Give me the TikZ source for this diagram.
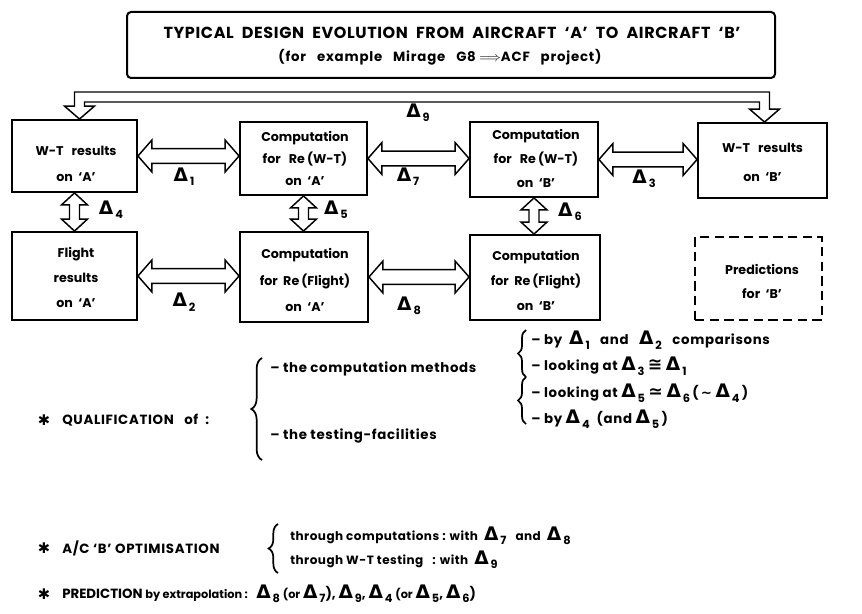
\documentclass[tikz,border=0pt]{standalone}
\usepackage{fontspec}
\setmainfont{Poppins}
\newfontfamily\dvf{DejaVu Sans}
\usetikzlibrary{calc,decorations.pathreplacing}
\newcommand\dl[1]{{\dvf\bfseries\fontsize{14}{14}\selectfont Δ}\raisebox{-0.6ex}{\fontsize{8.5}{8.5}\selectfont\bfseries\,#1}}
\newcommand\harr[2]{%
 \draw[darrow] let \p1=(#1), \p2=(#2) in
 (\x1,\y1) -- (\x1+10.5pt,\y1+12pt) -- (\x1+10.5pt,\y1+5.6pt) -- (\x2-10.5pt,\y1+5.6pt) -- (\x2-10.5pt,\y1+12pt) -- (\x2,\y1) -- (\x2-10.5pt,\y1-12pt) -- (\x2-10.5pt,\y1-5.6pt) -- (\x1+10.5pt,\y1-5.6pt) -- (\x1+10.5pt,\y1-12pt) -- cycle;}
\newcommand\varr[2]{%
 \draw[darrow] let \p1=(#1), \p2=(#2) in
 (\x1,\y1) -- (\x1+9.75pt,\y1-9pt) -- (\x1+3.75pt,\y1-9pt) -- (\x1+3.75pt,\y2+9pt) -- (\x1+9.75pt,\y2+9pt) -- (\x1,\y2) -- (\x1-9.75pt,\y2+9pt) -- (\x1-3.75pt,\y2+9pt) -- (\x1-3.75pt,\y1-9pt) -- (\x1-9.75pt,\y1-9pt) -- cycle;}
\begin{document}
\begin{tikzpicture}[x=0.75pt,y=-0.75pt,
  box/.style={draw, line width=1.4pt, inner sep=0pt},
  btxt/.style={align=center, inner sep=0pt, font=\bfseries\fontsize{9.5}{18}\selectfont},
  darrow/.style={draw, line width=1.1pt, line join=miter},
  lbl/.style={inner sep=0pt},
  txt/.style={anchor=west, inner sep=0pt, font=\bfseries\fontsize{10}{12}\selectfont\addfontfeature{LetterSpace=5}},
  stxt/.style={anchor=west, inner sep=0pt, font=\bfseries\fontsize{9}{10}\selectfont\addfontfeature{LetterSpace=4}},
  star/.style={inner sep=0pt, font=\dvf\bfseries\fontsize{11}{11}\selectfont},
  brc/.style={draw, line width=1.3pt, decorate}]
\useasboundingbox (0,0) rectangle (862,613);
\fill[white] (0,0) rectangle (862,613);

% title
\node[draw, line width=1.5pt, rounded corners=3pt, minimum width=486pt, minimum height=49.5pt, inner sep=0pt] (title) at (451,45) {};
\node[inner sep=0pt, font=\bfseries\fontsize{12}{12}\selectfont] (t1) at (452,32.5) {\addfontfeature{LetterSpace=4}TYPICAL\ \ DESIGN\ \ EVOLUTION\ \ FROM\ \ AIRCRAFT\ \ `A'\ \ TO\ \ AIRCRAFT\ \ `B'};
\node[inner sep=0pt, font=\bfseries\fontsize{10}{10}\selectfont] (t2) at (440,57) {\addfontfeature{LetterSpace=6}(for\ \ \ example\ \ \ Mirage\ \ \ G8\ $\Longrightarrow$ACF\ \ \ project)};

% boxes
\node[box, minimum width=93.75pt, minimum height=54pt] (wta) at (74.5,156) {};
\node[btxt, font=\bfseries\fontsize{9.5}{19.5}\selectfont] (wtat) at (76,164) {W-T\ \ \ results\\on\ \ `A'};
\node[box, minimum width=95.25pt, minimum height=54.75pt] (cwa) at (303.5,158.5) {};
\node[btxt, font=\bfseries\fontsize{9.5}{16.5}\selectfont] (cwat) at (305,158.5) {Computation\\for\ \ \ Re\,(W-T)\\on\ \ `A'};
\node[box, minimum width=96pt, minimum height=56.25pt] (cwb) at (534,159.5) {};
\node[btxt] (cwbt) at (536,158) {Computation\\for\ \ \ Re\,(W-T)\\on\ \ `B'};
\node[box, minimum width=96.75pt, minimum height=56.25pt] (wtb) at (762.5,160.5) {};
\node[btxt, font=\bfseries\fontsize{9.5}{21.75}\selectfont] (wtbt) at (762.5,162.5) {W-T\ \ \ results\\on\ \ `B'};
\node[box, minimum width=93.75pt, minimum height=66pt] (fla) at (74.5,276) {};
\node[btxt, font=\bfseries\fontsize{9.5}{19}\selectfont] (flat) at (76,277.5) {Flight\\results\\on\ \ `A'};
\node[box, minimum width=96pt, minimum height=67.5pt] (cfa) at (304,277) {};
\node[btxt, font=\bfseries\fontsize{9.5}{20}\selectfont] (cfat) at (305,280) {Computation\\for\ \ Re\,(Flight)\\on\ \ `A'};
\node[box, minimum width=97.5pt, minimum height=63.75pt] (cfb) at (535,277.5) {};
\node[btxt, font=\bfseries\fontsize{9.5}{18.5}\selectfont] (cfbt) at (536,280.5) {Computation\\for\ \ Re\,(Flight)\\on\ \ `B'};
\node[box, dash pattern=on 7pt off 4pt, minimum width=95.25pt, minimum height=62.25pt] (prb) at (758.5,278.5) {};
\node[btxt] (prbt) at (762,281) {Predictions\\for\ \ `B'};

% hollow double arrows
\coordinate (d9) at (0,97);
\draw[darrow] let \p1=($(wta.north)+(5,0)$), \p2=($(wtb.north)+(2,0)$), \p3=(d9) in
 (\x1,\y1) -- (\x1+11.25pt,\y1+9.75pt) -- (\x1+3.75pt,\y1+9.75pt) -- (\x1+3.75pt,\y3-3.75pt) -- (\x2-3.75pt,\y3-3.75pt) -- (\x2-3.75pt,\y2+9.75pt) -- (\x2-11.25pt,\y2+9.75pt) -- (\x2,\y2) -- (\x2+11.25pt,\y2+9.75pt) -- (\x2+3.75pt,\y2+9.75pt) -- (\x2+3.75pt,\y3+3.75pt) -- (\x1-3.75pt,\y3+3.75pt) -- (\x1-3.75pt,\y1+9.75pt) -- (\x1-11.25pt,\y1+9.75pt) -- cycle;
\harr{wta.east}{cwa.west}
\harr{cwa.east}{cwb.west}
\harr{cwb.east}{wtb.west}
\harr{fla.east}{cfa.west}
\harr{cfa.east}{cfb.west}
\varr{wta.south}{fla.north}
\varr{cwa.south}{cfa.north}
\varr{cwb.south}{cfb.north}

% delta labels
\node[lbl] (l9) at (418,113) {\dl{9}};
\node[lbl] (l1) at (184,177) {\dl{1}};
\node[lbl] (l7) at (408,177) {\dl{7}};
\node[lbl] (l3) at (644,179) {\dl{3}};
\node[lbl] (l4) at (111,210) {\dl{4}};
\node[lbl] (l5) at (336,210) {\dl{5}};
\node[lbl] (l6) at (570,212) {\dl{6}};
\node[lbl] (l2) at (184,302) {\dl{2}};
\node[lbl] (l8) at (409,306) {\dl{8}};

% qualification
\node[star] (s1) at (44,420) {✱};
\node[txt] (q) at (62,420) {QUALIFICATION\ \ \ of\ \ :};
\draw[brc, decoration={brace, amplitude=8pt}] (262,460) -- (262,358);
\node[txt] (q1) at (270,369) {– the computation methods};
\node[txt] (q2) at (270,436) {– the testing-facilities};
\draw[brc, decoration={brace, amplitude=6pt}] (526,377) -- (526,330);
\draw[brc, decoration={brace, amplitude=6pt}] (526,424) -- (526,377);
\node[txt] (r1) at (531,340) {– by\ \ \dl{1}\ \ \ and\ \ \ \dl{2}\ \ \ comparisons};
\node[txt] (r2) at (531,366) {– looking at\ \dl{3}\ {\dvf\bfseries\fontsize{13}{13}\selectfont ≅}\ \dl{1}};
\node[txt] (r3) at (531,393) {– looking at\ \dl{5}\ {\dvf\bfseries\fontsize{13}{13}\selectfont ≃}\ \dl{6}\,(\,{\dvf\bfseries ∼}\ \dl{4}\,)};
\node[txt] (r4) at (531,419) {– by\ \dl{4}\ \ (and\ \dl{5}\,)};

% optimisation
\node[star] (s2) at (44,548) {✱};
\node[txt] (o) at (62,548) {A/C `B' OPTIMISATION};
\draw[brc, decoration={brace, amplitude=7pt}] (278,573) -- (278,524);
\node[stxt] (o1) at (290,536) {through computations : with\ \ \dl{7}\ \ \ and\ \ \dl{8}};
\node[stxt] (o2) at (290,560) {through W-T testing\ \ \ : with\ \ \dl{9}};

% prediction
\node[star] (s3) at (44,594) {✱};
\node[txt, font=\bfseries\fontsize{10}{12}\selectfont] (p) at (62,594) {PREDICTION {\fontsize{8.5}{10}\selectfont by extrapolation :}\ \ \ \dl{8} {\fontsize{8.5}{10}\selectfont (or} \dl{7}), \dl{9}, \dl{4} {\fontsize{8.5}{10}\selectfont (or} \dl{5}, \dl{6})};
\end{tikzpicture}
\end{document}
